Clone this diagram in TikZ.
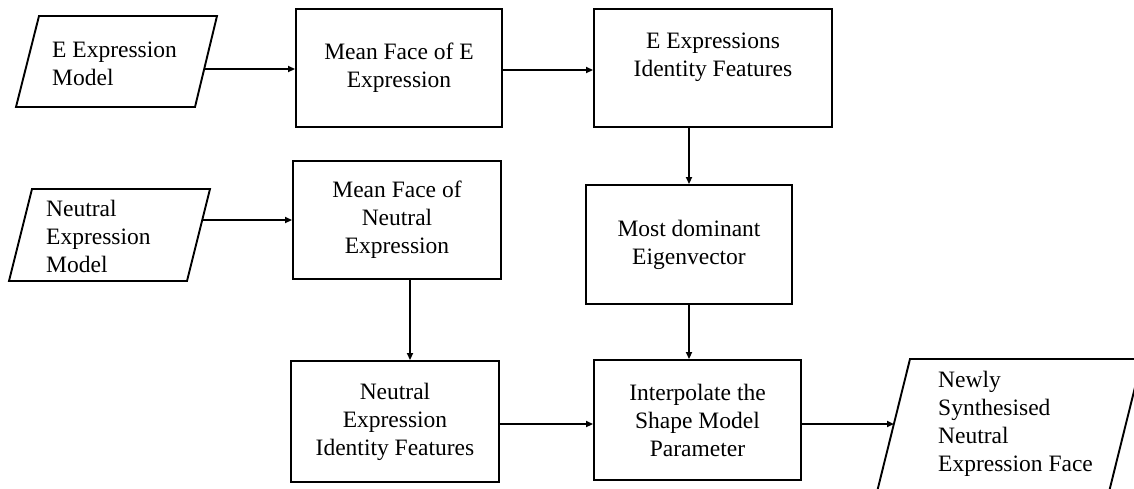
\documentclass[tikz,border=0pt]{standalone}
\usepackage{fontspec}
\setmainfont{Liberation Serif}
\usetikzlibrary{arrows.meta,calc}

\begin{document}
\begin{tikzpicture}[x=1pt,y=-1pt,
  every node/.style={font=\fontsize{23.5}{28}\selectfont, inner sep=0pt},
  box/.style={draw, line width=1.9pt, rectangle, align=center},
  txt/.style={align=left},
  ioshape/.style={draw, line width=1.9pt, line join=miter},
  flow/.style={-{Triangle[length=7pt,width=6pt]}, line width=2pt}]

\useasboundingbox (0,0) rectangle (1134,488);
\clip (0,0) rectangle (1134,488);

% process boxes
\node[box, minimum width=206pt, minimum height=118pt] (b1) at (399,68) {Mean Face of E\\Expression};
\node[box, minimum width=238pt, minimum height=118pt] (b3) at (713,68) {};
\node[txt, align=center] (t3) at (713,57) {E Expressions\\Identity Features};
\node[box, minimum width=208pt, minimum height=118pt] (b2) at (397,220) {Mean Face of\\Neutral\\Expression};
\node[box, minimum width=206pt, minimum height=119pt] (b4) at (689,244.5) {Most dominant\\Eigenvector};
\node[box, minimum width=208pt, minimum height=121pt] (b5) at (395,421.5) {Neutral\\Expression\\Identity Features};
\node[box, minimum width=207pt, minimum height=120pt] (b6) at (697.5,420) {Interpolate the\\Shape Model\\Parameter};

% input / output parallelograms (text anchored on its last baseline)
\draw[ioshape] (39,16) -- (217,16) -- (195,107) -- (16,107) -- cycle;
\node[txt, anchor=base west] (p1) at (52,85) {E Expression\\Model};
\coordinate (p1out) at (205,69);

\draw[ioshape] (32,189) -- (210,189) -- (187,281) -- (9,281) -- cycle;
\node[txt, anchor=base west] (p2) at (46,272) {Neutral\\Expression\\Model};
\coordinate (p2out) at (203,220);

\draw[ioshape] (910,359) -- (1142,359) -- (1107,500) -- (875,500) -- cycle;
\node[txt, anchor=base west] (p3) at (938,471) {Newly\\Synthesised\\Neutral\\Expression Face};
\coordinate (p3in) at (894,424);

% connectors
\draw[flow] (p1out) -- (p1out -| b1.west);
\draw[flow] ($(b1.east)+(0,2)$) -- ($(b3.west)+(0,2)$);
\draw[flow] (p2out) -- (p2out -| b2.west);
\draw[flow] (b3.south -| b4.north) -- (b4.north);
\draw[flow] ($(b2.south)+(13,0)$) -- ($(b5.north)+(15,0)$);
\draw[flow] (b4.south) -- (b4.south |- b6.north);
\draw[flow] ($(b5.east)+(0,2.5)$) -- ($(b6.west)+(0,4)$);
\draw[flow] ($(b6.east)+(0,4)$) -- (p3in);

\end{tikzpicture}
\end{document}
